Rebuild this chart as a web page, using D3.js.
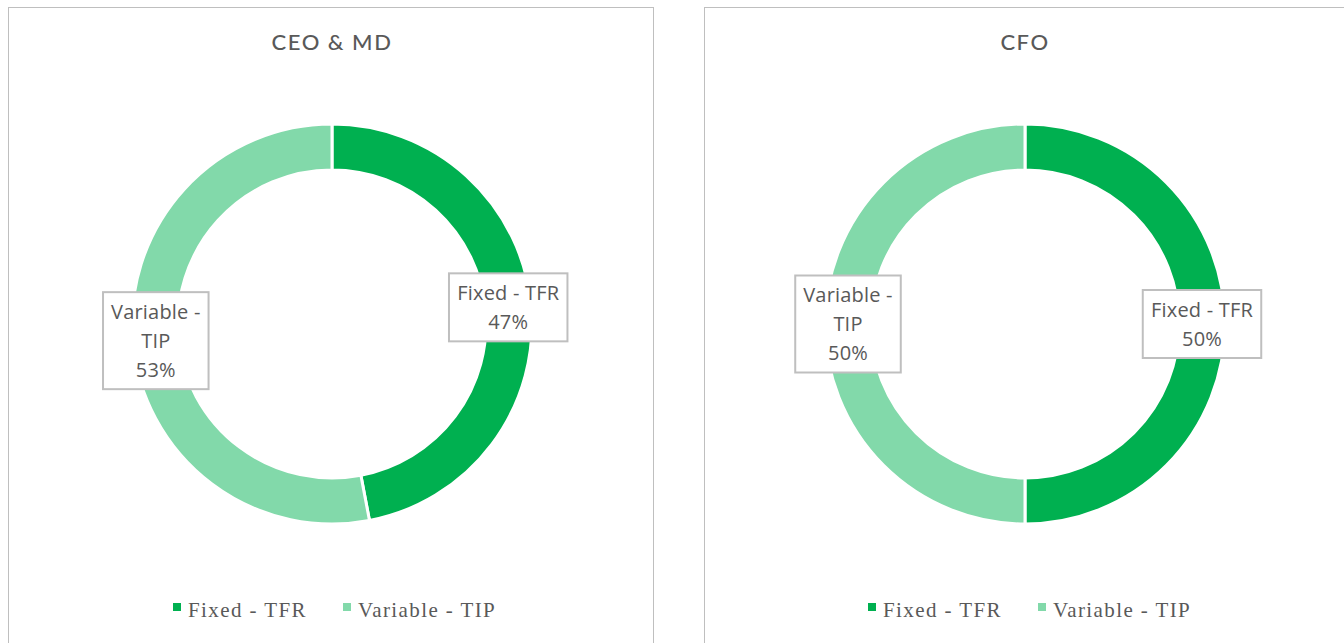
<!DOCTYPE html>
<html>
<head>
<meta charset="utf-8">
<script src="https://cdn.jsdelivr.net/npm/d3@7"></script>
<style>
  body { margin: 0; background: #fff; }
  svg { display: block; }
</style>
</head>
<body>
<svg width="1344" height="643"></svg>
<script>
// chart data
var titles = ['CEO & MD', 'CFO'];
var categories = ['Fixed - TFR', 'Variable - TIP'];
var ceoValues = [47, 53];
var cfoValues = [50, 50];
// label text lines as excel wrapped them
var ceoLabels = [['Fixed - TFR'], ['Variable -', 'TIP']];
var cfoLabels = [['Fixed - TFR'], ['Variable -', 'TIP']];

var colors = d3.scaleOrdinal().domain(categories).range(['#00B050', '#82D9AA']);

var svg = d3.select('svg');

var panels = [
  { x: 8, y: 7, w: 645, title: titles[0], values: ceoValues, labels: ceoLabels },
  { x: 704, y: 7, w: 660, title: titles[1], values: cfoValues, labels: cfoLabels }
];

var outerR = 200, innerR = 154;
var pie = d3.pie().sort(null).value(function(d) { return d; });
var arc = d3.arc().innerRadius(innerR).outerRadius(outerR);
var labelArc = d3.arc().innerRadius(177).outerRadius(177);

panels.forEach(function(p, pi) {
  var g = svg.append('g').attr('transform', 'translate(' + p.x + ',' + p.y + ')');

  g.append('rect')
    .attr('x', 0.5).attr('y', 0.5)
    .attr('width', p.w).attr('height', 660)
    .attr('fill', '#fff')
    .attr('stroke', '#BFBFBF')
    .attr('stroke-width', 1);

  var cx = pi === 0 ? 324 : 321;

  g.append('text')
    .attr('x', cx).attr('y', 43)
    .attr('text-anchor', 'middle')
    .attr('font-family', 'Lato, "Open Sans", sans-serif')
    .attr('font-size', 22)
    .attr('font-weight', 500)
    .attr('letter-spacing', 1.5)
    .attr('fill', '#595959')
    .text(p.title);

  var donut = g.append('g').attr('transform', 'translate(' + cx + ',' + 317 + ')');
  var arcs = pie(p.values);

  donut.selectAll('path')
    .data(arcs)
    .enter().append('path')
    .attr('d', arc)
    .attr('fill', function(d, i) { return colors(categories[i]); })
    .attr('stroke', '#fff')
    .attr('stroke-width', 3);

  // data labels in boxes
  arcs.forEach(function(d, i) {
    var c = labelArc.centroid(d);
    var lines = p.labels[i].concat([d.data + '%']);
    var lh = 29;
    var lg = donut.append('g').attr('transform', 'translate(' + c[0] + ',' + c[1] + ')');
    var txt = lg.append('text')
      .attr('text-anchor', 'middle')
      .attr('font-family', '"Open Sans", sans-serif')
      .attr('font-size', 20)
      .attr('letter-spacing', 0.2)
      .attr('fill', '#595959');
    lines.forEach(function(l, k) {
      txt.append('tspan')
        .attr('x', 0)
        .attr('y', (k - (lines.length - 1) / 2) * lh + 7)
        .text(l);
    });
    var bb = txt.node().getBBox();
    var bw = bb.width + 16, bh = lines.length * lh + 10;
    lg.insert('rect', 'text')
      .attr('x', -bw / 2).attr('y', -bh / 2)
      .attr('width', bw).attr('height', bh)
      .attr('fill', '#fff')
      .attr('stroke', '#BFBFBF')
      .attr('stroke-width', 2);
  });

  // legend
  var legend = g.append('g').attr('transform', 'translate(' + (pi === 0 ? 165 : 164) + ',' + 596 + ')');
  var offs = [0, 170];
  categories.forEach(function(c, i) {
    var item = legend.append('g').attr('transform', 'translate(' + offs[i] + ',0)');
    item.append('rect')
      .attr('x', 0).attr('y', 0)
      .attr('width', 8).attr('height', 8)
      .attr('fill', colors(c));
    item.append('text')
      .attr('x', 15).attr('y', 14)
      .attr('font-family', '"Liberation Serif", "DejaVu Serif", serif')
      .attr('font-size', 21)
      .attr('letter-spacing', 1.4)
      .attr('fill', '#595959')
      .text(c);
  });
});
</script>
</body>
</html>
